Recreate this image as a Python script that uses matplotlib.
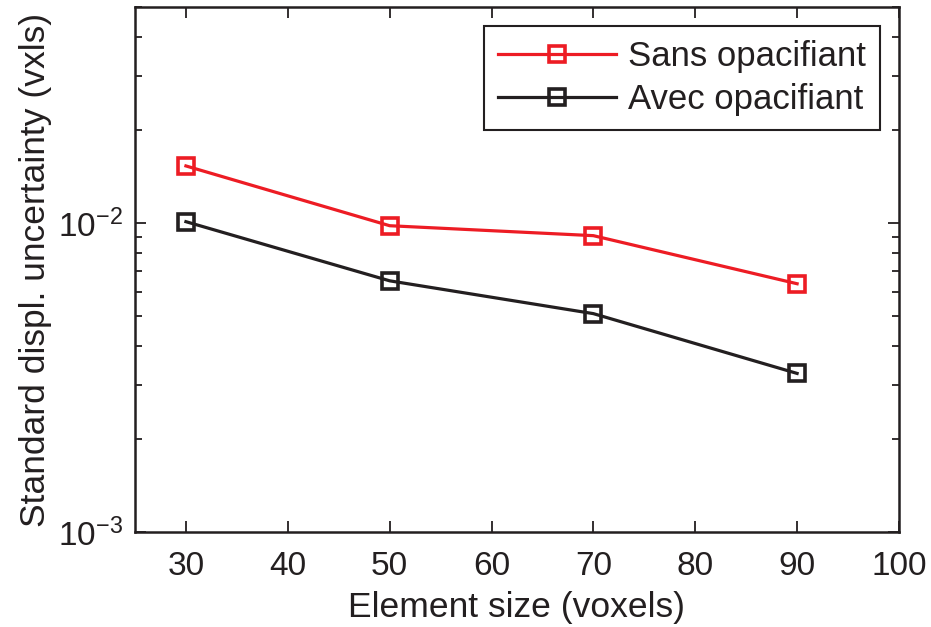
import matplotlib
matplotlib.use('Agg')
import matplotlib.pyplot as plt
from matplotlib.ticker import LogLocator, LogFormatterMathtext, NullFormatter

plt.rcParams['font.family'] = ['Liberation Sans', 'DejaVu Sans']
plt.rcParams['mathtext.default'] = 'regular'

# data
element_size = [30, 50, 70, 90]
sans_opacifiant = [0.0153, 0.0098, 0.0091, 0.00636]
avec_opacifiant = [0.0101, 0.0065, 0.00509, 0.00326]
labels = ['Sans opacifiant', 'Avec opacifiant']

red = '#ED1C24'
black = '#231F20'

fig = plt.figure(figsize=(9.31, 6.27), dpi=100)
ax = fig.add_axes([0.145, 0.1515, 0.8206, 0.8373])

ax.plot(element_size, sans_opacifiant, color=red, lw=2.3, marker='s', ms=11,
        mfc='none', mec=red, mew=2.6, label=labels[0])
ax.plot(element_size, avec_opacifiant, color=black, lw=2.3, marker='s', ms=11,
        mfc='none', mec=black, mew=2.6, label=labels[1])

ax.set_yscale('log')
ax.set_xlim(25, 100)
ax.set_ylim(1e-3, 5e-2)
ax.set_xticks(range(30, 101, 10))
ax.yaxis.set_major_locator(LogLocator(base=10, numticks=10))
ax.yaxis.set_major_formatter(LogFormatterMathtext())
ax.yaxis.set_minor_locator(LogLocator(base=10, subs=range(2, 10), numticks=10))
ax.yaxis.set_minor_formatter(NullFormatter())

ax.tick_params(which='both', direction='in', top=True, right=True, width=1.3, colors=black)
ax.tick_params(which='major', length=8, labelsize=24)
ax.tick_params(axis='x', which='major', pad=14)
ax.tick_params(axis='y', which='major', pad=9)
ax.tick_params(which='minor', length=5)
for s in ax.spines.values():
    s.set_linewidth(1.8)
    s.set_color(black)

ax.set_xlabel('Element size (voxels)', fontsize=25.5, color=black, labelpad=6)
ax.set_ylabel('Standard displ. uncertainty (vxls)', fontsize=25.5, color=black, labelpad=4)

leg = ax.legend(loc='upper right', fontsize=25, handlelength=3.4, fancybox=False,
                edgecolor=black, framealpha=1, borderpad=0.4, labelspacing=0.3,
                handletextpad=0.35, borderaxespad=0.55)
leg.get_frame().set_linewidth(1.5)
for t in leg.get_texts():
    t.set_color(black)

fig.savefig('out.png', dpi=100)
